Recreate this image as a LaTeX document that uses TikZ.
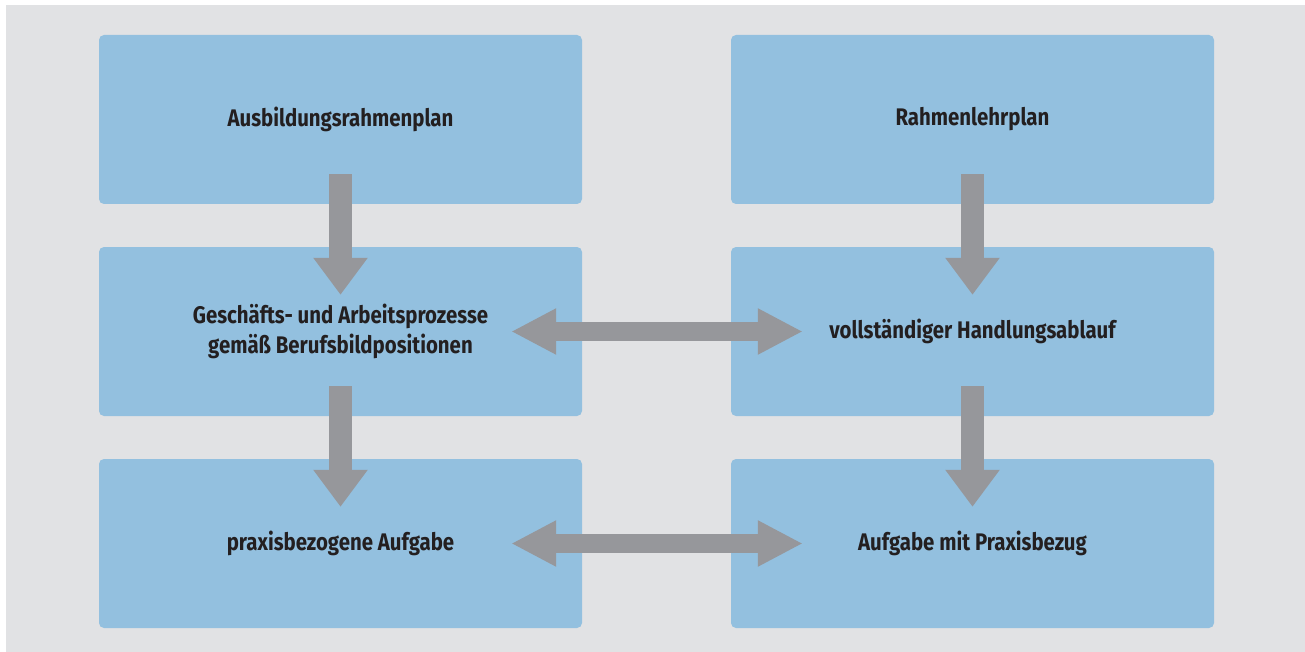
\documentclass[tikz,border=0pt]{standalone}
\usepackage{fontspec}
\setmainfont[FakeStretch=0.85]{Fira Sans}
\usepackage{xcolor}
\usepackage{tikz}
\usetikzlibrary{shapes,arrows.meta}
\definecolor{boxblue}{RGB}{147,192,223}
\definecolor{panelgray}{RGB}{225,226,228}
\definecolor{arrowgray}{RGB}{150,151,155}
\definecolor{textdark}{RGB}{35,31,32}
\tikzstyle{block} = [rectangle, fill=boxblue, text=textdark, inner sep=0pt,
    minimum width=483pt, minimum height=169pt, rounded corners=5pt, align=center,
    font=\fontsize{24}{30}\selectfont\bfseries]
\tikzstyle{line} = [draw=arrowgray, line width=23pt, -{Triangle[length=37pt,width=52pt]}]
\tikzstyle{dline} = [draw=arrowgray, line width=19pt, {Triangle[length=45pt,width=43pt]}-{Triangle[length=45pt,width=43pt]}]

\begin{document}
\begin{tikzpicture}[x=1pt, y=-1pt, node distance=212pt]
    \useasboundingbox (0,0) rectangle (1305,652);
    \fill[white] (0,0) rectangle (1305,652);
    \fill[panelgray] (6,5) rectangle (1305,652);

    % Place nodes
    \node [block] at (340.5,119.5) (ausb) {Ausbildungsrahmenplan};
    \node [block, right of=ausb, node distance=632pt] (rlp) {Rahmenlehrplan};
    \node [block, below of=ausb] (gap) {Geschäfts- und Arbeitsprozesse\\gemäß Berufsbildpositionen};
    \node [block, below of=rlp] (hand) {vollständiger Handlungsablauf};
    \node [block, below of=gap] (praxis) {praxisbezogene Aufgabe};
    \node [block, below of=hand] (aufg) {Aufgabe mit Praxisbezug};

    % Draw edges
    \path [line] ([yshift=30pt]ausb.south) -- ([yshift=-48pt]gap.north);
    \path [line] ([yshift=30pt]gap.south) -- ([yshift=-48pt]praxis.north);
    \path [line] ([yshift=30pt]rlp.south) -- ([yshift=-48pt]hand.north);
    \path [line] ([yshift=30pt]hand.south) -- ([yshift=-48pt]aufg.north);
    \path [dline] ([xshift=-71pt]gap.east) -- ([xshift=72pt]hand.west);
    \path [dline] ([xshift=-71pt]praxis.east) -- ([xshift=72pt]aufg.west);
\end{tikzpicture}
\end{document}
